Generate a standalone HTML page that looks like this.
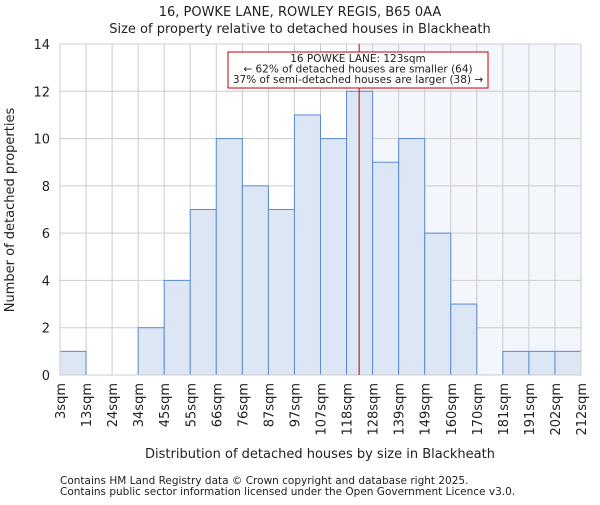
<!DOCTYPE html>
<html><head><meta charset="utf-8"><style>
body{margin:0;background:#fff;font-family:"Liberation Sans","DejaVu Sans",sans-serif;}
svg text{font-family:"DejaVu Sans","Liberation Sans",sans-serif;fill:#222;}
</style></head><body>
<svg id="c" width="600" height="500" viewBox="0 0 600 500"></svg>
<script>
const categories=["3sqm","13sqm","24sqm","34sqm","45sqm","55sqm","66sqm","76sqm","87sqm","97sqm","107sqm","118sqm","128sqm","139sqm","149sqm","160sqm","170sqm","181sqm","191sqm","202sqm","212sqm"];
const counts=[1,0,0,2,4,7,10,8,7,11,10,12,9,10,6,3,0,1,1,1];
const yTicks=[0,2,4,6,8,10,12,14];
const propertySize=123;
const binStart=3, binWidth=10.45;
const L=60,R=581,T=44,B=375,yMax=14;
const svg=document.getElementById('c');const NS='http://www.w3.org/2000/svg';
function el(t,a,p){const e=document.createElementNS(NS,t);for(const k in a)e.setAttribute(k,a[k]);(p||svg).appendChild(e);return e;}
const bw=(R-L)/counts.length;
const x=i=>L+i*bw;
const y=v=>B-v/yMax*(B-T);
const xv=s=>L+(s-binStart)/binWidth*bw;
const px=xv(propertySize);
let s=el('rect',{x:px,y:T,width:R-px,height:B-T,fill:'#f4f6fd'});


for(let i=0;i<=counts.length;i++){const g=el('line',{x1:x(i),x2:x(i),y1:T,y2:B,stroke:'#cccccc','stroke-width':1});

}
yTicks.forEach(v=>{const g=el('line',{x1:L,x2:R,y1:y(v),y2:y(v),stroke:'#cccccc','stroke-width':1});


const t=el('text',{x:L-10,y:y(v)+5,'text-anchor':'end','font-size':13});t.textContent=v;

});
counts.forEach((c,i)=>{if(c<=0)return;const b=el('rect',{x:x(i),y:y(c),width:bw,height:B-y(c),fill:'#dce6f4',stroke:'#5b8bd0','stroke-width':1});

});
categories.forEach((c,i)=>{const t=el('text',{transform:`translate(${x(i)+5},${B+8}) rotate(-90)`,'text-anchor':'end','font-size':13});t.textContent=c;

});
const ax=el('rect',{x:L,y:T,width:R-L,height:B-T,fill:'none',stroke:'#cccccc'});


const ml=el('line',{x1:px,x2:px,y1:T,y2:B,stroke:'#c00000','stroke-width':1});


const box=el('rect',{x:228,y:52,width:260,height:36,fill:'#fff',stroke:'#c00000','stroke-width':1});


["16 POWKE LANE: 123sqm","← 62% of detached houses are smaller (64)","37% of semi-detached houses are larger (38) →"].forEach((l,i)=>{const t=el('text',{x:358,y:62+i*10.5,'text-anchor':'middle','font-size':10.5});t.textContent=l;

});
function txt(str,a,name){const t=el('text',a);t.textContent=str;}
txt("16, POWKE LANE, ROWLEY REGIS, B65 0AA",{x:300,y:16,'text-anchor':'middle','font-size':13},'chart-title');
txt("Size of property relative to detached houses in Blackheath",{x:300,y:33,'text-anchor':'middle','font-size':13},'chart-subtitle');
txt("Distribution of detached houses by size in Blackheath",{x:320,y:458,'text-anchor':'middle','font-size':13},'x-axis-title');
txt("Number of detached properties",{transform:'translate(14,210) rotate(-90)','text-anchor':'middle','font-size':13},'y-axis-title');
txt("Contains HM Land Registry data © Crown copyright and database right 2025.",{x:60,y:484,'font-size':10.5,fill:'#444'},'footer-line-1');
txt("Contains public sector information licensed under the Open Government Licence v3.0.",{x:60,y:495,'font-size':10.5,fill:'#444'},'footer-line-2');
</script>
</body></html>
